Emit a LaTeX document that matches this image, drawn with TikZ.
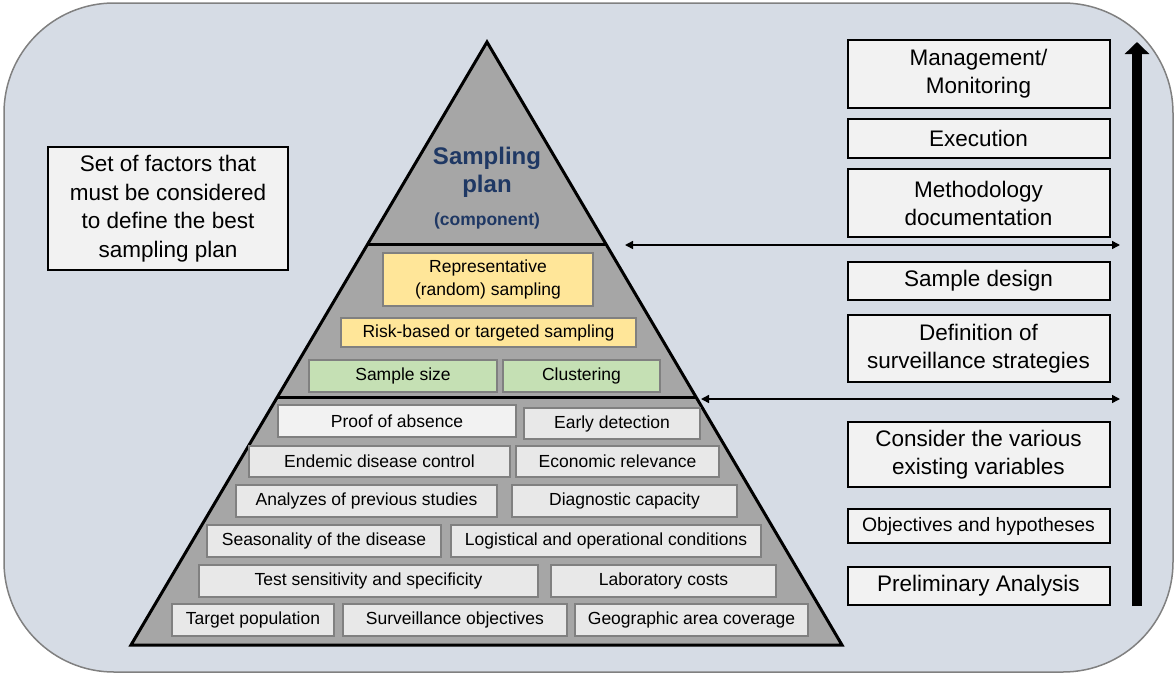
\documentclass[tikz,border=0pt]{standalone}
\usepackage{fontspec}
\setmainfont{Liberation Sans}
\usetikzlibrary{calc,arrows.meta}

\definecolor{backblue}{HTML}{D6DCE5}
\definecolor{pyrgray}{HTML}{A6A6A6}
\definecolor{boxgray}{HTML}{F2F2F2}
\definecolor{factorgray}{HTML}{E8E8E8}
\definecolor{edgegray}{HTML}{808080}
\definecolor{sandyellow}{HTML}{FFE699}
\definecolor{palegreen}{HTML}{C5E0B4}
\definecolor{planblue}{HTML}{1F3864}

\tikzset{
  stage/.style={draw, line width=2pt, fill=boxgray, align=center, inner sep=0pt,
    minimum width=262pt, font=\fontsize{22.5}{28}\selectfont},
  factor/.style={draw=edgegray, line width=1.5pt, fill=factorgray, align=center,
    inner sep=0pt, minimum height=32pt, font=\fontsize{17.5}{22.5}\selectfont},
  link/.style={line width=1.5pt,
    {Triangle[length=8pt,width=8pt]}-{Triangle[length=8pt,width=8pt]}}
}

\begin{document}
\begin{tikzpicture}[x=1pt, y=-1pt]
    \useasboundingbox (0,0) rectangle (1176,675);
    \filldraw[fill=backblue, draw=edgegray, line width=1.5pt, rounded corners=110pt]
    (4,3) rectangle (1173,672);

    \coordinate (top) at (487,42);
    \coordinate (bl) at (131,645);
    \coordinate (br) at (842,645);

    \filldraw[fill=pyrgray, line width=3pt] (top) -- (br) -- (bl) -- cycle;
    \draw[line width=3pt]
    ($(top)!0.335!(bl)$) -- ($(top)!0.335!(br)$)
    ($(top)!0.590!(bl)$) -- ($(top)!0.590!(br)$)
    ;

    \node[text=planblue, align=center, font=\bfseries\fontsize{24}{28}\selectfont]
    (plan) at (487,172) {Sampling\\plan};
    \node[text=planblue, font=\bfseries\fontsize{17.5}{20}\selectfont]
    (comp) at (487,221) {(component)};

    \node[factor, fill=sandyellow, minimum width=210pt, minimum height=53pt]
    (rep) at (488,279.5) {Representative\\(random) sampling};
    \node[factor, fill=sandyellow, minimum width=295pt, minimum height=29pt]
    (risk) at (488.5,332.5) {Risk-based or targeted sampling};
    \node[factor, fill=palegreen, minimum width=188pt] (size) at (403,376) {Sample size};
    \node[factor, fill=palegreen, minimum width=157pt] (clust) at (581.5,376) {Clustering};

    \node[factor, fill=boxgray, minimum width=238pt] (proof) at (397,421) {Proof of absence};
    \node[factor, minimum width=176pt, minimum height=31pt] (early) at (612,423.5) {Early detection};
    \node[factor, minimum width=261pt, minimum height=31pt] (endemic) at (379.5,461.5) {Endemic disease control};
    \node[factor, minimum width=203pt, minimum height=31pt] (econ) at (617.5,461.5) {Economic relevance};
    \node[factor, minimum width=261pt] (prev) at (366.5,501) {Analyzes of previous studies};
    \node[factor, minimum width=225pt] (diag) at (624.5,501) {Diagnostic capacity};
    \node[factor, minimum width=234pt] (season) at (324,541) {Seasonality of the disease};
    \node[factor, minimum width=310pt] (logist) at (606,541) {Logistical and operational conditions};
    \node[factor, minimum width=339pt] (test) at (368.5,581) {Test sensitivity and specificity};
    \node[factor, minimum width=225pt] (lab) at (663.5,581) {Laboratory costs};
    \node[factor, minimum width=162pt] (target) at (253,620) {Target population};
    \node[factor, minimum width=224pt] (surv) at (455,620) {Surveillance objectives};
    \node[factor, minimum width=233pt] (geo) at (691.5,620) {Geographic area coverage};

    \node[stage, minimum width=240pt, minimum height=123pt,
    font=\fontsize{22.5}{28.5}\selectfont]
    (factors) at (168,208.5) {Set of factors that\\must be considered\\to define the best\\sampling plan};

    \node[stage, minimum height=68pt] (mgmt) at (978.5,74) {Management/\\Monitoring};
    \node[stage, minimum height=39pt] (exec) at (978.5,138.5) {Execution};
    \node[stage, minimum height=68pt] (method) at (978.5,203) {Methodology\\documentation};
    \node[stage, minimum height=38pt] (design) at (978.5,281) {Sample design};
    \node[stage, minimum height=67pt] (strat) at (978.5,348.5) {Definition of\\surveillance strategies};
    \node[stage, minimum height=65pt] (vars) at (978.5,454.5) {Consider the various\\existing variables};
    \node[stage, minimum height=34pt, font=\fontsize{19.4}{23}\selectfont]
    (obj) at (978.5,526) {Objectives and hypotheses};
    \node[stage, minimum height=38pt] (prelim) at (978.5,586) {Preliminary Analysis};

    \coordinate (up1) at (625,245);
    \coordinate (up2) at (1120,245);
    \coordinate (low1) at (701,399);
    \coordinate (low2) at (1120,399);
    \draw[link] (up1) -- (up2);
    \draw[link] (low1) -- (low2);

    \coordinate (flow0) at (1137,606);
    \coordinate (flow1) at (1137,42);
    \draw[line width=10pt, -{Triangle[length=12pt,width=24pt]}] (flow0) -- (flow1);
  \end{tikzpicture}
\end{document}
